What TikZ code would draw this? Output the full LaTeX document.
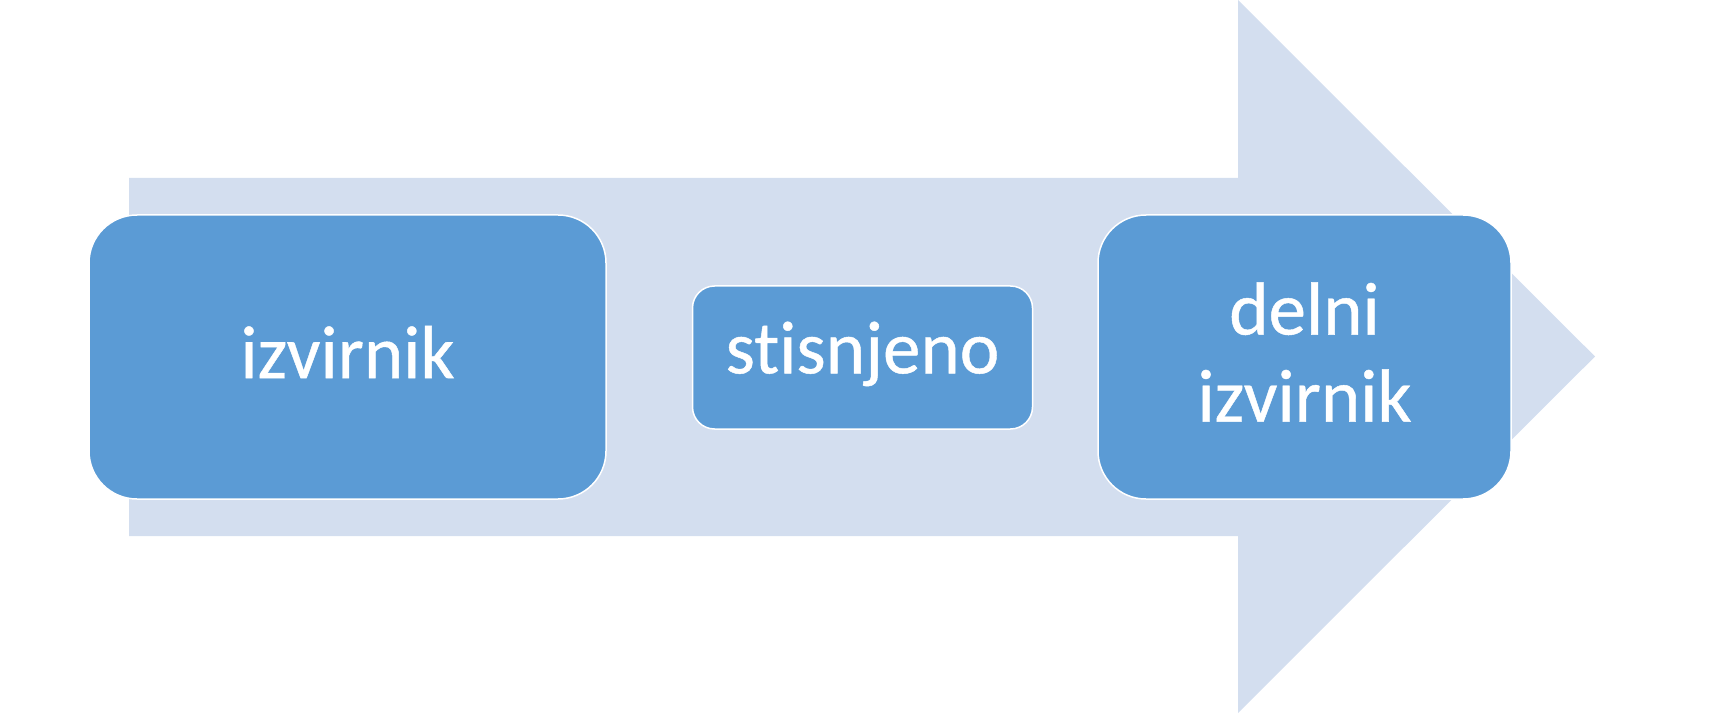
\documentclass[tikz,border=0pt]{standalone}
\usepackage{fontspec}
\setmainfont[Ligatures=NoCommon,FakeBold=0.6]{Carlito}
\definecolor{arrowfill}{RGB}{211,222,239}
\definecolor{boxfill}{RGB}{91,155,213}
\newcommand{\lowstrut}[1]{\rule[-#1]{0pt}{1pt}}
\begin{document}
\begin{tikzpicture}[x=1pt,y=-1pt,
  procbox/.style={draw=white, line width=1.5pt, fill=boxfill, text=white,
    font=\fontsize{75}{87}\selectfont, align=center, inner sep=0pt,
    rounded corners=48pt},
  smallbox/.style={procbox, rounded corners=22pt}]
\useasboundingbox (0,0) rectangle (1725,714);
\fill[arrowfill] (129,178) -- (1238,178) -- (1238,0) -- (1595,356.5)
  -- (1238,713) -- (1238,536) -- (129,536) -- cycle;
\node[procbox, minimum width=517pt, minimum height=284pt] (src) at (347.5,357) {izvirnik\lowstrut{10pt}};
\node[smallbox, minimum width=340pt, minimum height=143pt] (cmp) at (862.5,357.5) {stisnjeno\lowstrut{20pt}};
\node[procbox, minimum width=413pt, minimum height=284pt] (part) at (1304.5,357) {delni\\izvirnik\lowstrut{10pt}};
\end{tikzpicture}
\end{document}
